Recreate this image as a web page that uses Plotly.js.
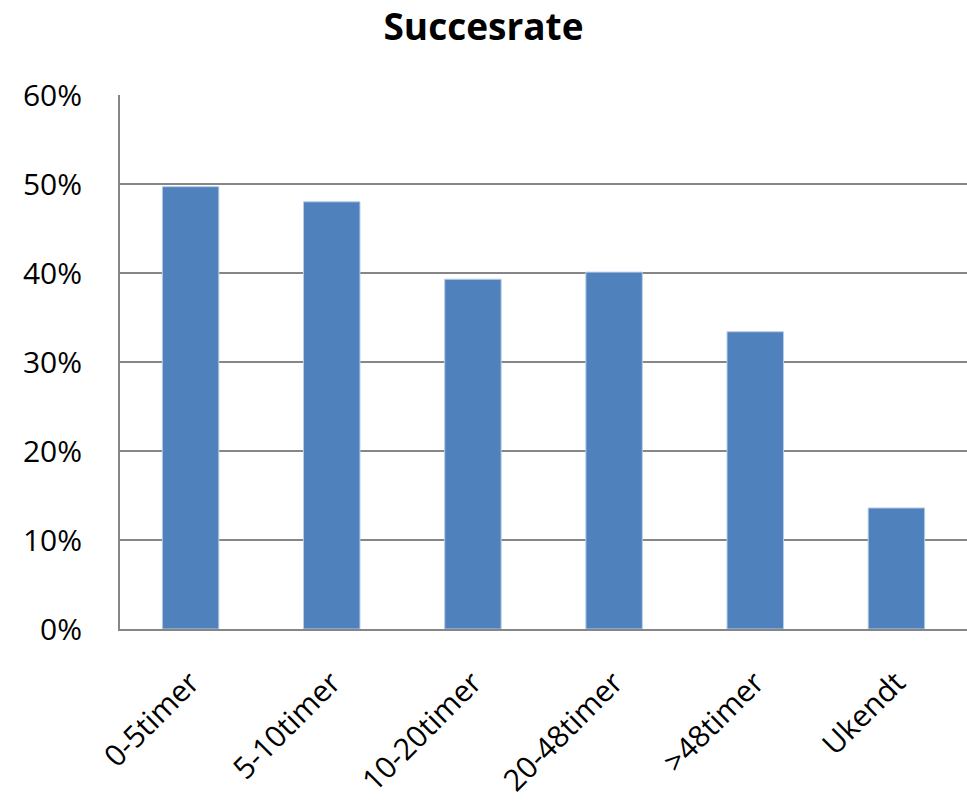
<!DOCTYPE html>
<html><head><meta charset="utf-8">
<script src="https://cdn.plot.ly/plotly-3.0.1.min.js"></script>
<style>html,body{margin:0;padding:0;background:#fff}#c{width:967px;height:808px}</style>
</head><body><div id="c"></div>
<script>
const categories = ["0-5timer","5-10timer","10-20timer","20-48timer",">48timer","Ukendt"];
const successRate = [0.497, 0.480, 0.393, 0.401, 0.334, 0.136];
const yTicks = [0,0.1,0.2,0.3,0.4,0.5,0.6];
const yTickLabels = ["0%","10%","20%","30%","40%","50%","60%"];

const font = "Open Sans, Noto Sans, sans-serif";
Plotly.newPlot("c", [{
  type: "bar", x: categories, y: successRate,
  marker: {color: "#4F81BD", line: {color: "#B9CDE5", width: 1}},
  width: 0.4, hoverinfo: "none"
}], {
  width: 967, height: 808,
  margin: {l: 120, r: 0, t: 95, b: 179},
  paper_bgcolor: "#fff", plot_bgcolor: "#fff",
  title: {text: "<b>Succesrate</b>", x: 0.5, xanchor: "center", y: 0.966, yanchor: "middle",
          font: {family: font, size: 37, color: "#000"}},
  showlegend: false,
  xaxis: {type: "category", showgrid: false, showline: true, linecolor: "#868686", linewidth: 2,
          tickangle: -45, ticks: "", ticklabelstandoff: 22,
          tickfont: {family: font, size: 30, color: "#000"}, range: [-0.5, 5.5], fixedrange: true},
  yaxis: {range: [0, 0.6], tickvals: yTicks, ticktext: yTickLabels, showgrid: true,
          gridcolor: "#868686", gridwidth: 2, showline: true, linecolor: "#868686", linewidth: 2,
          zeroline: false, ticks: "", ticklabelstandoff: 30,
          tickfont: {family: font, size: 30, color: "#000"}, fixedrange: true}
}, {staticPlot: true});
</script></body></html>
